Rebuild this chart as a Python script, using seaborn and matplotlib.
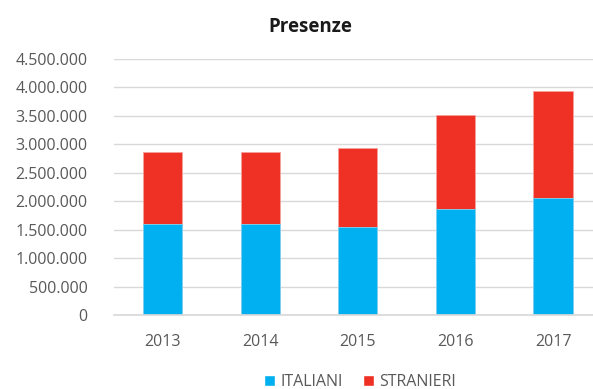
import matplotlib
matplotlib.use("Agg")
import matplotlib.pyplot as plt
import seaborn as sns
import pandas as pd
from matplotlib.patches import Patch
from matplotlib.ticker import FuncFormatter, MultipleLocator

anni = ["2013", "2014", "2015", "2016", "2017"]
italiani = [1594000, 1596000, 1540000, 1870000, 2050000]
stranieri = [1276000, 1269000, 1390000, 1640000, 1880000]

BLUE = "#00B0F0"
RED = "#EE3124"
TXT = "#595959"

sns.set_theme(style="white")
plt.rcParams["font.family"] = ["Open Sans", "DejaVu Sans"]

df = pd.DataFrame({"anno": anni, "ITALIANI": italiani, "STRANIERI": stranieri})
df["totale"] = df["ITALIANI"] + df["STRANIERI"]

fig = plt.figure(figsize=(5.93, 3.89), dpi=100)
ax = fig.add_axes([114 / 593, 1 - 315 / 389, 1 - 114 / 593, (315 - 59) / 389])

# stacked bars: total in red, Italian share in blue on top of it
sns.barplot(data=df, x="anno", y="totale", color=RED, width=0.4, ax=ax,
            saturation=1, edgecolor="#F6A09A", linewidth=0.6)
sns.barplot(data=df, x="anno", y="ITALIANI", color=BLUE, width=0.4, ax=ax,
            saturation=1, edgecolor="#7FD7F7", linewidth=0.6)

ax.set_ylim(0, 4500000)
ax.set_xlim(-0.5, 4.41)
ax.yaxis.set_major_locator(MultipleLocator(500000))
ax.yaxis.set_major_formatter(FuncFormatter(lambda v, p: f"{int(v):,}".replace(",", ".")))
ax.grid(axis="y", color="#D9D9D9", linewidth=1)
ax.set_axisbelow(True)
for s in ["top", "right", "left"]:
    ax.spines[s].set_visible(False)
ax.spines["bottom"].set_color("#D9D9D9")
ax.set_xlabel("")
ax.set_ylabel("")
ax.tick_params(axis="y", colors=TXT, labelsize=11.5, pad=19, length=0)
ax.tick_params(axis="x", colors=TXT, labelsize=11.5, pad=14, length=0)

fig.text(0.523, 0.93, "Presenze", ha="center", va="center",
         fontsize=13.5, fontweight="bold", color="#1a1a1a")

handles = [Patch(facecolor=BLUE, label="ITALIANI"), Patch(facecolor=RED, label="STRANIERI")]
fig.legend(handles=handles, loc="center", bbox_to_anchor=(0.607, 0.018), ncol=2,
           frameon=False, fontsize=11.5, labelcolor=TXT, handlelength=0.7,
           handleheight=0.7, handletextpad=0.3, columnspacing=1.3)

fig.savefig("out.png", dpi=100)
